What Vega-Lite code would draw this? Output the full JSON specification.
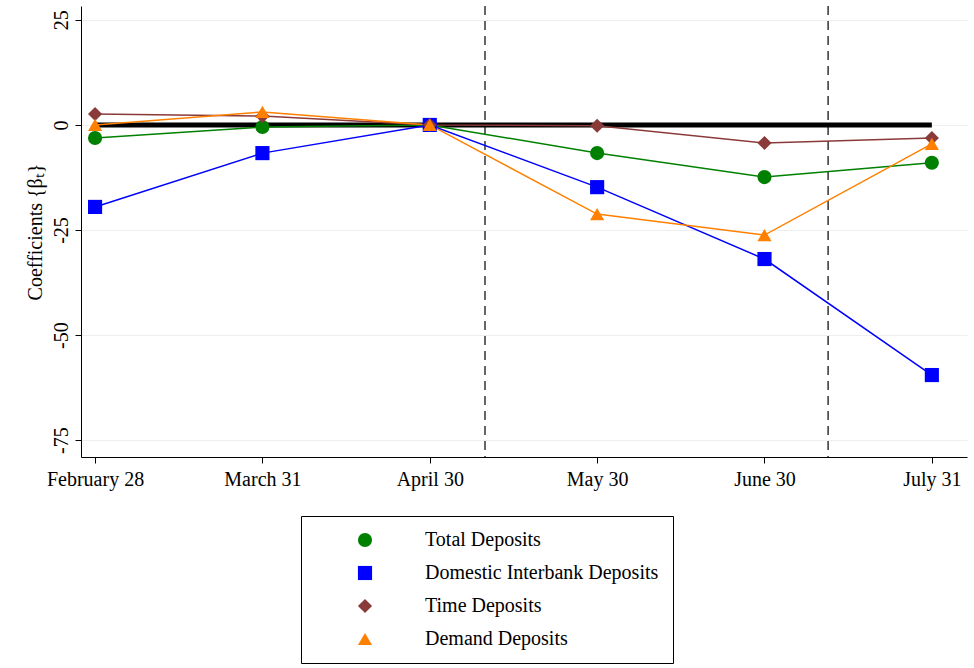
{
  "$schema": "https://vega.github.io/schema/vega-lite/v6.json",
  "width": 886,
  "height": 451,
  "padding": {"left": 24, "top": 5, "right": 4, "bottom": 5},
  "config": {
    "font": "Liberation Serif",
    "view": {"stroke": null},
    "axis": {"labelFont": "Liberation Serif", "titleFont": "Liberation Serif", "labelFontSize": 20, "titleFontSize": 20, "labelColor": "black", "titleColor": "black", "domainColor": "black", "tickColor": "black", "titleFontWeight": "normal"},
    "legend": {"labelFont": "Liberation Serif", "labelFontSize": 20, "labelColor": "black", "labelLimit": 0}
  },
  "datasets": {
    "coef": [
      {"i": 0, "series": "Total Deposits", "v": -3.1},
      {"i": 1, "series": "Total Deposits", "v": -0.5},
      {"i": 2, "series": "Total Deposits", "v": 0},
      {"i": 3, "series": "Total Deposits", "v": -6.7},
      {"i": 4, "series": "Total Deposits", "v": -12.4},
      {"i": 5, "series": "Total Deposits", "v": -9},
      {"i": 0, "series": "Domestic Interbank Deposits", "v": -19.5},
      {"i": 1, "series": "Domestic Interbank Deposits", "v": -6.7},
      {"i": 2, "series": "Domestic Interbank Deposits", "v": 0},
      {"i": 3, "series": "Domestic Interbank Deposits", "v": -14.8},
      {"i": 4, "series": "Domestic Interbank Deposits", "v": -31.9},
      {"i": 5, "series": "Domestic Interbank Deposits", "v": -59.5},
      {"i": 0, "series": "Time Deposits", "v": 2.6},
      {"i": 1, "series": "Time Deposits", "v": 2.1},
      {"i": 2, "series": "Time Deposits", "v": 0},
      {"i": 3, "series": "Time Deposits", "v": -0.2},
      {"i": 4, "series": "Time Deposits", "v": -4.3},
      {"i": 5, "series": "Time Deposits", "v": -3.1},
      {"i": 0, "series": "Demand Deposits", "v": 0},
      {"i": 1, "series": "Demand Deposits", "v": 3.1},
      {"i": 2, "series": "Demand Deposits", "v": 0},
      {"i": 3, "series": "Demand Deposits", "v": -21.2},
      {"i": 4, "series": "Demand Deposits", "v": -26.2},
      {"i": 5, "series": "Demand Deposits", "v": -4.5}
    ],
    "zero": [{"i": 0, "v": 0}, {"i": 5, "v": 0}],
    "cuts": [{"c": 2.33}, {"c": 4.38}]
  },
  "layer": [
    {
      "data": {"name": "cuts"},
      "mark": {"type": "rule", "strokeDash": [9, 6], "color": "black", "strokeWidth": 1.2},
      "encoding": {"x": {"field": "c", "type": "quantitative", "scale": {"domain": [-0.084, 5.21], "nice": false, "zero": false}}}
    },
    {
      "data": {"name": "zero"},
      "mark": {"type": "line", "color": "black", "strokeWidth": 5},
      "encoding": {
        "x": {"field": "i", "type": "quantitative"},
        "y": {"field": "v", "type": "quantitative"}
      }
    },
    {
      "data": {"name": "coef"},
      "mark": {"type": "line", "strokeWidth": 1.5},
      "encoding": {
        "x": {"field": "i", "type": "quantitative", "title": null,
          "scale": {"domain": [-0.084, 5.21], "nice": false, "zero": false},
          "axis": {"values": [0, 1, 2, 3, 4, 5], "grid": false, "tickSize": 6, "labelPadding": 6,
            "labelExpr": "['February 28','March 31','April 30','May 30','June 30','July 31'][datum.value]"}},
        "y": {"field": "v", "type": "quantitative", "title": "Coefficients {βₜ}",
          "scale": {"domain": [-79, 28.3], "nice": false},
          "axis": {"values": [25, 0, -25, -50, -75], "labelExpr": "replace(datum.label, '−', '-')", "gridColor": "#eeeeee", "labelAngle": -90, "labelAlign": "center", "labelBaseline": "bottom", "tickSize": 6, "labelPadding": 4, "titlePadding": 6}},
        "color": {"field": "series", "type": "nominal",
          "scale": {"domain": ["Total Deposits", "Domestic Interbank Deposits", "Time Deposits", "Demand Deposits"], "range": ["#008000", "#0000ff", "#8b3a3a", "#ff8000"]},
          "legend": {"orient": "none", "legendX": 220, "legendY": 510, "title": null, "strokeColor": "black", "padding": 14, "symbolSize": 200, "rowPadding": 13, "labelOffset": 50, "symbolStrokeWidth": 0, "symbolOffset": 40}}
      }
    },
    {
      "data": {"name": "coef"},
      "mark": {"type": "point", "filled": true, "opacity": 1, "size": 200},
      "encoding": {
        "x": {"field": "i", "type": "quantitative"},
        "y": {"field": "v", "type": "quantitative"},
        "color": {"field": "series", "type": "nominal",
          "legend": {"orient": "none", "legendX": 220, "legendY": 510, "title": null, "strokeColor": "black", "padding": 14, "symbolSize": 200, "rowPadding": 13, "labelOffset": 50, "symbolStrokeWidth": 0, "symbolOffset": 40}},
        "shape": {"field": "series", "type": "nominal",
          "scale": {"domain": ["Total Deposits", "Domestic Interbank Deposits", "Time Deposits", "Demand Deposits"], "range": ["circle", "square", "diamond", "triangle-up"]},
          "legend": {"orient": "none", "legendX": 220, "legendY": 510, "title": null, "strokeColor": "black", "padding": 14, "symbolSize": 200, "rowPadding": 13, "labelOffset": 50, "symbolStrokeWidth": 0, "symbolOffset": 40}}
      }
    }
  ]
}
